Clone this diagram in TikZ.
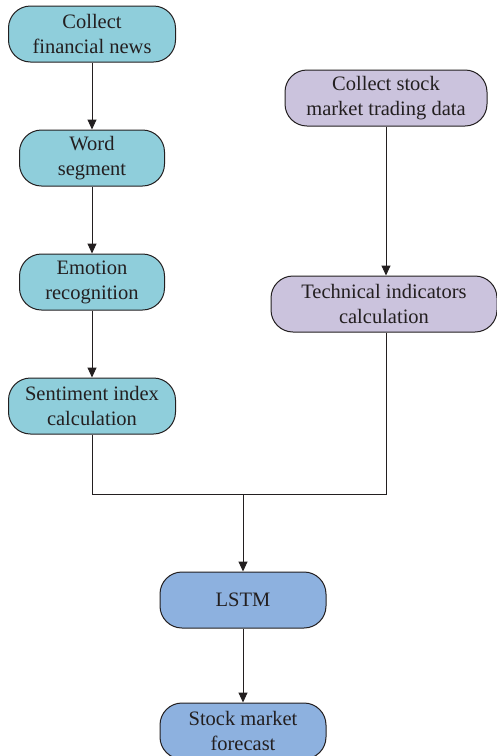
\documentclass[tikz,border=0pt]{standalone}
\usepackage{fontspec}
\setmainfont{Liberation Serif}
\usetikzlibrary{arrows.meta}
\definecolor{teal1}{HTML}{8FCEDB}
\definecolor{lav}{HTML}{CBC3DD}
\definecolor{blu}{HTML}{8DB1DF}
\definecolor{edge}{HTML}{231F20}
\tikzset{
  box/.style={draw=edge, line width=1pt, rounded corners=22pt, minimum height=56pt, align=center, inner sep=2pt, text=edge, font=\fontsize{20.5}{25}\selectfont},
  arr/.style={draw=edge, line width=1pt, -{Triangle[length=10pt,width=9pt]}},
  ln/.style={draw=edge, line width=1pt}
}
\begin{document}
\begin{tikzpicture}[x=1pt,y=-1pt]
\useasboundingbox (0,0) rectangle (497,756);
\node[box, fill=teal1, minimum width=167pt] (a1) at (92,34) {Collect\\financial news};
\node[box, fill=teal1, minimum width=145pt] (a2) at (92,158) {Word\\segment};
\node[box, fill=teal1, minimum width=145pt] (a3) at (92,282) {Emotion\\recognition};
\node[box, fill=teal1, minimum width=167pt] (a4) at (92,406) {Sentiment index\\calculation};
\node[box, fill=lav, minimum width=202pt] (b1) at (386,98) {Collect stock\\market trading data};
\node[box, fill=lav, minimum width=226pt] (b2) at (384,304) {Technical indicators\\calculation};
\node[box, fill=blu, minimum width=166pt] (c1) at (243,600) {LSTM};
\node[box, fill=blu, minimum width=166pt] (c2) at (243,731) {Stock market\\forecast};
\coordinate (j) at (243,494);
\draw[arr] (a1) -- (a2);
\draw[arr] (a2) -- (a3);
\draw[arr] (a3) -- (a4);
\draw[arr] (b1.south -| 386,0) -- (b2.north -| 386,0);
\draw[ln] (a4.south) |- (j);
\draw[ln] (b2.south -| 386,0) |- (j);
\draw[arr] (j) -- (c1);
\draw[arr] (c1) -- (c2);
\end{tikzpicture}
\end{document}
